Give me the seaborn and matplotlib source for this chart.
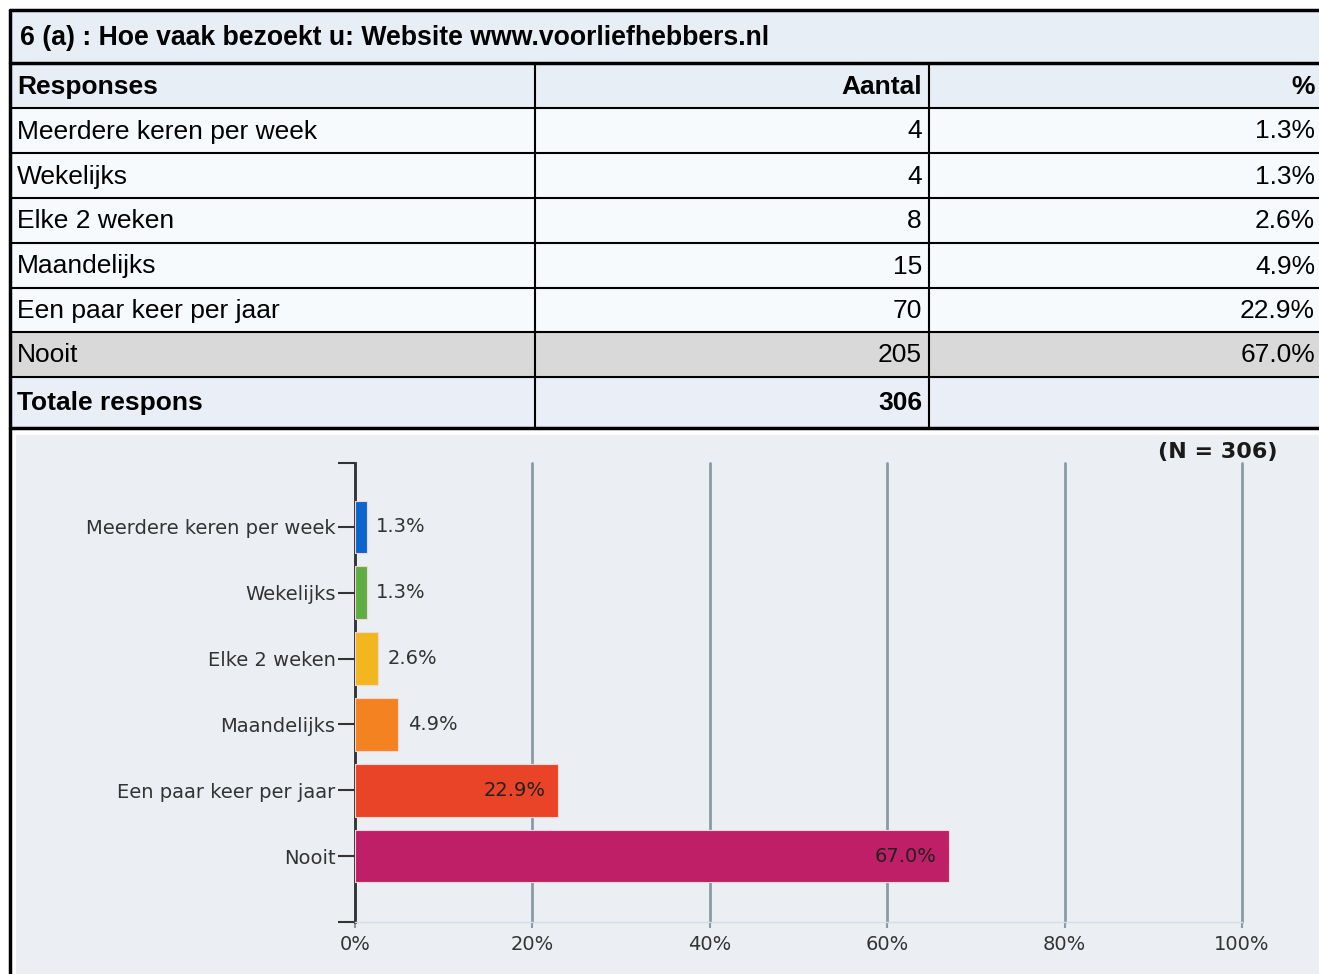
import matplotlib
matplotlib.use('Agg')
import matplotlib.pyplot as plt
from matplotlib.patches import Rectangle
import seaborn as sns

# Survey data: 6 (a) Hoe vaak bezoekt u: Website www.voorliefhebbers.nl
question = "6 (a) : Hoe vaak bezoekt u: Website www.voorliefhebbers.nl"
responses = ["Meerdere keren per week", "Wekelijks", "Elke 2 weken",
             "Maandelijks", "Een paar keer per jaar", "Nooit"]
counts = [4, 4, 8, 15, 70, 205]
percentages = [1.3, 1.3, 2.6, 4.9, 22.9, 67.0]
total = 306
bar_colors = ["#0a66cc", "#5fae44", "#f2b71e", "#f58220", "#e94328", "#bf1f66"]
x_ticks = [0, 20, 40, 60, 80, 100]

W, H = 1319, 974
sns.set_style("white")
plt.rcParams['font.family'] = ['Liberation Sans', 'DejaVu Sans']
plt.rcParams['text.color'] = 'black'

fig = plt.figure(figsize=(W / 100, H / 100), dpi=100)


def fx(x):
    return x / W


def fy(y):
    return 1 - y / H


def box(x0, y0, x1, y1, color):
    fig.patches.append(Rectangle((fx(x0), fy(y1)), fx(x1) - fx(x0), fy(y0) - fy(y1),
                                 transform=fig.transFigure, facecolor=color,
                                 edgecolor='none', zorder=-2))


def hline(y, x0, x1, lw=2):
    fig.add_artist(plt.Line2D([fx(x0), fx(x1)], [fy(y), fy(y)], color='black',
                              lw=lw, transform=fig.transFigure, zorder=3))


def vline(x, y0, y1, lw=2):
    fig.add_artist(plt.Line2D([fx(x), fx(x)], [fy(y0), fy(y1)], color='black',
                              lw=lw, transform=fig.transFigure, zorder=3))


# ---- table ----
left, c1, c2, right = 10, 535, 929, 1325
row_edges = [108, 153, 198, 243, 288, 332, 377]
box(left, 10, right, 63, "#e8eef6")
box(left, 63, right, 108, "#e8eef6")
for i in range(len(responses)):
    col = "#d9d9d9" if responses[i] == "Nooit" else "#f7fafd"
    box(left, row_edges[i], right, row_edges[i + 1], col)
box(left, 377, right, 428, "#eaeef6")

fs = 19
fig.text(fx(20), fy(38), question, fontsize=19.2, fontweight='bold', va='center')
fig.text(fx(17), fy(87), "Responses", fontsize=fs, fontweight='bold', va='center')
fig.text(fx(922), fy(87), "Aantal", fontsize=fs, fontweight='bold', va='center', ha='right')
fig.text(fx(1315), fy(87), "%", fontsize=fs, fontweight='bold', va='center', ha='right')
for i, (r, n, p) in enumerate(zip(responses, counts, percentages)):
    yc = (row_edges[i] + row_edges[i + 1]) / 2 + 1
    fig.text(fx(17), fy(yc), r, fontsize=fs, va='center')
    fig.text(fx(922), fy(yc), str(n), fontsize=fs, va='center', ha='right')
    fig.text(fx(1315), fy(yc), f"{p:.1f}%", fontsize=fs, va='center', ha='right')
fig.text(fx(17), fy(403), "Totale respons", fontsize=fs, fontweight='bold', va='center')
fig.text(fx(922), fy(403), str(total), fontsize=fs, fontweight='bold', va='center', ha='right')

hline(10, left, right, 2.5)
hline(63, left, right, 2.5)
hline(108, left, right, 1.5)
for y in row_edges[1:]:
    hline(y, left, right, 1.5)
hline(428, left, right, 2.5)
vline(left, 10, 974, 2.5)
vline(c1, 63, 428, 1.5)
vline(c2, 63, 428, 1.5)

# ---- chart panel ----
box(16, 435, 1319, 974, "#ebeef2")

lab_fs = 14
ax = fig.add_axes([fx(355), fy(922), fx(1242) - fx(355), fy(463) - fy(922)])
ax.set_zorder(1)
ax.set_facecolor('none')
sns.barplot(x=percentages, y=responses, hue=responses, palette=bar_colors,
            legend=False, width=0.8, ax=ax, zorder=3, saturation=1,
            edgecolor='#f2d6d6', linewidth=0.8)
ax.set_xlim(0, 100)
ax.set_ylim(len(responses), -0.97)
ax.set_xticks(x_ticks)
ax.set_xticklabels([f"{t}%" for t in x_ticks], fontsize=lab_fs, color='#333333',
                   family='DejaVu Sans')
ax.set_yticks(range(len(responses)))
ax.set_yticklabels(responses, fontsize=lab_fs, color='#333333', family='DejaVu Sans')
ax.set_yticks([-0.97, len(responses)], minor=True)
ax.tick_params(axis='y', which='both', length=12, width=1.5, color='#333333', pad=2, left=True)
ax.tick_params(axis='x', length=4, width=1.5, color='#8a9aa5', pad=5, bottom=True)
ax.grid(axis='x', color='#8a9aa5', lw=2, zorder=0)
for g in ax.get_xgridlines():
    g.set_clip_on(False)
ax.set_axisbelow(True)
for s in ['top', 'right']:
    ax.spines[s].set_visible(False)
ax.spines['left'].set_color('#333333')
ax.spines['left'].set_linewidth(2)
ax.spines['bottom'].set_color('#d6deec')
ax.spines['bottom'].set_linewidth(1)
ax.set_xlabel('')
ax.set_ylabel('')

for i, p in enumerate(percentages):
    if p < 10:
        ax.annotate(f"{p:.1f}%", (p, i), xytext=(7, 0), textcoords='offset points',
                    ha='left', va='center', fontsize=lab_fs, color='#333333',
                    family='DejaVu Sans')
    else:
        ax.annotate(f"{p:.1f}%", (p, i), xytext=(-9, 0), textcoords='offset points',
                    ha='right', va='center', fontsize=lab_fs, color='#222222',
                    family='DejaVu Sans')

fig.text(fx(1277), fy(452), f"(N = {total})", fontsize=16, fontweight='bold',
         ha='right', va='center', family='DejaVu Sans', color='#1a1a1a')

fig.savefig('out.png', dpi=100)
